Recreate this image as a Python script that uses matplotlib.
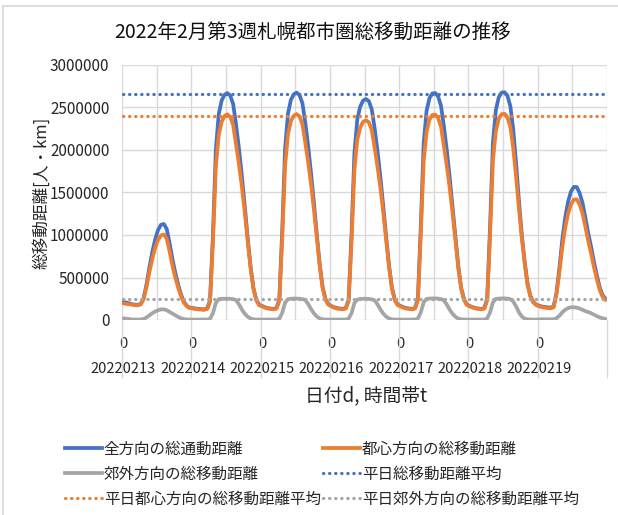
import numpy as np
import matplotlib
matplotlib.use("Agg")
import matplotlib.pyplot as plt
from matplotlib.lines import Line2D

plt.rcParams['font.family'] = ['Noto Sans CJK JP', 'DejaVu Sans']

# ---------------- data ----------------
dates = ['20220213', '20220214', '20220215', '20220216', '20220217', '20220218', '20220219']
hour_label = '0'
y_ticks = [0, 500000, 1000000, 1500000, 2000000, 2500000, 3000000]

# 全方向の総通動距離 (hourly, per day)
total_13 = [215000, 205000, 195000, 185000, 180000, 178000, 190000, 260000, 420000, 620000, 800000, 950000,
            1060000, 1120000, 1130000, 1070000, 900000, 710000, 550000, 410000, 295000, 210000, 165000, 145000]
total_14 = [140000, 135000, 130000, 128000, 125000, 135000, 230000, 1000000, 2000000, 2420000, 2580000, 2650000,
            2670000, 2640000, 2540000, 2300000, 2020000, 1700000, 1350000, 980000, 640000, 380000, 240000, 180000]
total_15 = [165000, 150000, 140000, 135000, 130000, 140000, 240000, 1050000, 2020000, 2430000, 2590000, 2655000,
            2675000, 2645000, 2550000, 2320000, 2040000, 1720000, 1370000, 1000000, 650000, 385000, 245000, 185000]
total_16 = [165000, 150000, 140000, 135000, 130000, 140000, 235000, 1000000, 1960000, 2360000, 2510000, 2580000,
            2600000, 2575000, 2480000, 2260000, 1990000, 1680000, 1340000, 980000, 640000, 380000, 240000, 180000]
total_17 = [165000, 150000, 140000, 135000, 130000, 140000, 250000, 1100000, 2080000, 2460000, 2610000, 2665000,
            2670000, 2630000, 2520000, 2280000, 2000000, 1680000, 1330000, 970000, 630000, 375000, 240000, 180000]
total_18 = [165000, 150000, 140000, 135000, 130000, 140000, 250000, 1100000, 2090000, 2470000, 2620000, 2675000,
            2680000, 2640000, 2520000, 2250000, 1850000, 1400000, 1000000, 680000, 420000, 280000, 210000, 180000]
total_19 = [168000, 158000, 153000, 148000, 145000, 160000, 320000, 610000, 940000, 1200000, 1390000, 1510000,
            1565000, 1565000, 1495000, 1380000, 1205000, 1022000, 860000, 682000, 525000, 380000, 290000, 247000]

# 都心方向の総移動距離
inbound_13 = [195000, 190000, 185000, 179000, 175000, 173000, 184000, 248000, 390000, 565000, 720000, 850000,
              945000, 995000, 1005000, 955000, 805000, 635000, 495000, 375000, 275000, 200000, 159000, 140000]
inbound_14 = [135000, 130000, 125000, 123000, 120000, 130000, 215000, 920000, 1800000, 2175000, 2330000, 2400000,
              2420000, 2390000, 2295000, 2065000, 1835000, 1575000, 1275000, 940000, 622000, 372000, 235000, 175000]
inbound_15 = [160000, 145000, 135000, 130000, 125000, 135000, 225000, 965000, 1815000, 2185000, 2340000, 2403000,
              2423000, 2395000, 2304000, 2084000, 1852000, 1592000, 1293000, 959000, 632000, 377000, 240000, 180000]
inbound_16 = [160000, 145000, 135000, 130000, 125000, 135000, 220000, 920000, 1760000, 2120000, 2262000, 2330000,
              2350000, 2327000, 2237000, 2028000, 1805000, 1555000, 1265000, 940000, 622000, 372000, 235000, 175000]
inbound_17 = [160000, 145000, 135000, 130000, 125000, 135000, 232000, 1010000, 1870000, 2212000, 2358000, 2411000,
              2416000, 2378000, 2274000, 2048000, 1818000, 1558000, 1258000, 932000, 613000, 367000, 235000, 175000]
inbound_18 = [160000, 145000, 135000, 130000, 125000, 135000, 232000, 1010000, 1880000, 2222000, 2368000, 2421000,
              2426000, 2388000, 2275000, 2030000, 1690000, 1310000, 960000, 665000, 412000, 274000, 205000, 175000]
inbound_19 = [160000, 150000, 145000, 140000, 137000, 150000, 300000, 560000, 850000, 1080000, 1250000, 1360000,
              1415000, 1420000, 1360000, 1260000, 1100000, 930000, 780000, 620000, 480000, 350000, 270000, 235000]

# 郊外方向の総移動距離
outbound_13 = [20000, 15000, 10000, 6000, 5000, 5000, 6000, 12000, 30000, 55000, 80000, 100000,
               115000, 125000, 125000, 115000, 95000, 75000, 55000, 35000, 20000, 10000, 6000, 5000]
outbound_14 = [5000, 5000, 5000, 5000, 5000, 5000, 15000, 80000, 200000, 245000, 250000, 250000,
               250000, 250000, 245000, 235000, 185000, 125000, 75000, 40000, 18000, 8000, 5000, 5000]
outbound_15 = [5000, 5000, 5000, 5000, 5000, 5000, 15000, 85000, 205000, 245000, 250000, 252000,
               252000, 250000, 246000, 236000, 188000, 128000, 77000, 41000, 18000, 8000, 5000, 5000]
outbound_16 = [5000, 5000, 5000, 5000, 5000, 5000, 15000, 80000, 200000, 240000, 248000, 250000,
               250000, 248000, 243000, 232000, 185000, 125000, 75000, 40000, 18000, 8000, 5000, 5000]
outbound_17 = [5000, 5000, 5000, 5000, 5000, 5000, 18000, 90000, 210000, 248000, 252000, 254000,
               254000, 252000, 246000, 232000, 182000, 122000, 72000, 38000, 17000, 8000, 5000, 5000]
outbound_18 = [5000, 5000, 5000, 5000, 5000, 5000, 18000, 90000, 210000, 248000, 252000, 254000,
               254000, 252000, 245000, 220000, 160000, 90000, 40000, 15000, 8000, 6000, 5000, 5000]
outbound_19 = [8000, 8000, 8000, 8000, 8000, 10000, 20000, 50000, 90000, 120000, 140000, 150000,
               150000, 145000, 135000, 120000, 105000, 92000, 80000, 62000, 45000, 30000, 20000, 12000]

# 平日平均
avg_total_weekday = 2660000
avg_inbound_weekday = 2400000
avg_outbound_weekday = 243000

total = total_13 + total_14 + total_15 + total_16 + total_17 + total_18 + total_19
inbound = inbound_13 + inbound_14 + inbound_15 + inbound_16 + inbound_17 + inbound_18 + inbound_19
outbound = outbound_13 + outbound_14 + outbound_15 + outbound_16 + outbound_17 + outbound_18 + outbound_19

# ---------------- figure ----------------
W, H = 618, 515
fig = plt.figure(figsize=(W / 100, H / 100), dpi=100)
ax = fig.add_axes([122 / W, 1 - 320 / H, 485 / W, 255 / H])

BLUE, ORANGE, GRAY = '#4472C4', '#ED7D31', '#A5A5A5'
GRID = '#d9d9d9'
TXT = '#262626'

n = len(total)
x = np.arange(n)
lw = 2.7
ax.plot(x, total, color=BLUE, lw=lw, solid_joinstyle='round', solid_capstyle='round', zorder=3)
ax.plot(x, inbound, color=ORANGE, lw=lw, solid_joinstyle='round', solid_capstyle='round', zorder=3)
ax.plot(x, outbound, color=GRAY, lw=lw, solid_joinstyle='round', solid_capstyle='round', zorder=3)
dot = (0, (0.1, 1.8))
ax.plot(x, np.full(n, avg_total_weekday), color=BLUE, lw=2.3, linestyle=dot, dash_capstyle='round', zorder=4)
ax.plot(x, np.full(n, avg_inbound_weekday), color=ORANGE, lw=2.3, linestyle=dot, dash_capstyle='round', zorder=4)
ax.plot(x, np.full(n, avg_outbound_weekday), color=GRAY, lw=2.3, linestyle=dot, dash_capstyle='round', zorder=4)

ax.set_xlim(-0.5, n - 0.5)
ax.set_ylim(y_ticks[0], y_ticks[-1])
ax.set_yticks(y_ticks)
ax.set_yticklabels([str(v) for v in y_ticks], fontsize=11, color=TXT)
ax.tick_params(axis='y', length=0, pad=9)

day_starts = np.arange(0, n, 24)
ax.set_xticks(day_starts)
ax.set_xticklabels([hour_label] * len(day_starts), fontsize=10.5, color=TXT)
ax.tick_params(axis='x', length=0, pad=12)

# grid
for v in y_ticks:
    ax.axhline(v, color=GRID, lw=1.0, zorder=1)
for k in range(0, n + 1, 12):
    ax.axvline(k - 0.5, color=GRID, lw=1.0, zorder=1)
for s in ax.spines.values():
    s.set_visible(False)

# second level category labels (dates) and separators
xtr = ax.get_xaxis_transform()
for k, d in enumerate(dates):
    ax.text(day_starts[k], -49 / 255, d, transform=xtr, ha='center', va='center',
            fontsize=10.5, color=TXT)
for k in list(range(0, n, 24)) + [n]:
    ax.add_line(Line2D([k - 0.5, k - 0.5], [0, -57 / 255], transform=xtr, color=GRID,
                       lw=1.0, clip_on=False))

ax.set_ylabel('総移動距離[人・km]', fontsize=12, color=TXT)
ax.yaxis.set_label_coords(-(122 - 50) / 485, 0.5)

fig.text(366 / W, 1 - 396 / H, '日付d, 時間帯t', ha='center', va='center', fontsize=13.5, color=TXT)
fig.text(313 / W, 1 - 32 / H, '2022年2月第3週札幌都市圏総移動距離の推移', ha='center', va='center',
         fontsize=14, color='#111111')

# legend
handles = [
    Line2D([], [], color=BLUE, lw=lw),
    Line2D([], [], color=GRAY, lw=lw),
    Line2D([], [], color=ORANGE, lw=2.3, linestyle=dot, dash_capstyle='round'),
    Line2D([], [], color=ORANGE, lw=lw),
    Line2D([], [], color=BLUE, lw=2.3, linestyle=dot, dash_capstyle='round'),
    Line2D([], [], color=GRAY, lw=2.3, linestyle=dot, dash_capstyle='round'),
]
labels = ['全方向の総通動距離', '郊外方向の総移動距離', '平日都心方向の総移動距離平均',
          '都心方向の総移動距離', '平日総移動距離平均', '平日郊外方向の総移動距離平均']
leg = fig.legend(handles, labels, ncol=2, loc='upper left',
                 bbox_to_anchor=(54 / W, 1 - 430 / H), frameon=False,
                 fontsize=11.2, handlelength=2.4, handletextpad=0.1, columnspacing=0.15,
                 labelspacing=0.5, borderpad=0.2)
for t in leg.get_texts():
    t.set_color(TXT)

# chart border
fig.add_artist(Line2D([3.3 / W, 1], [1 - 5.5 / H, 1 - 5.5 / H], color=GRID, lw=1.2))
fig.add_artist(Line2D([3.3 / W, 3.3 / W], [0, 1 - 5.5 / H], color=GRID, lw=1.2))

fig.savefig('out.png', dpi=100)
